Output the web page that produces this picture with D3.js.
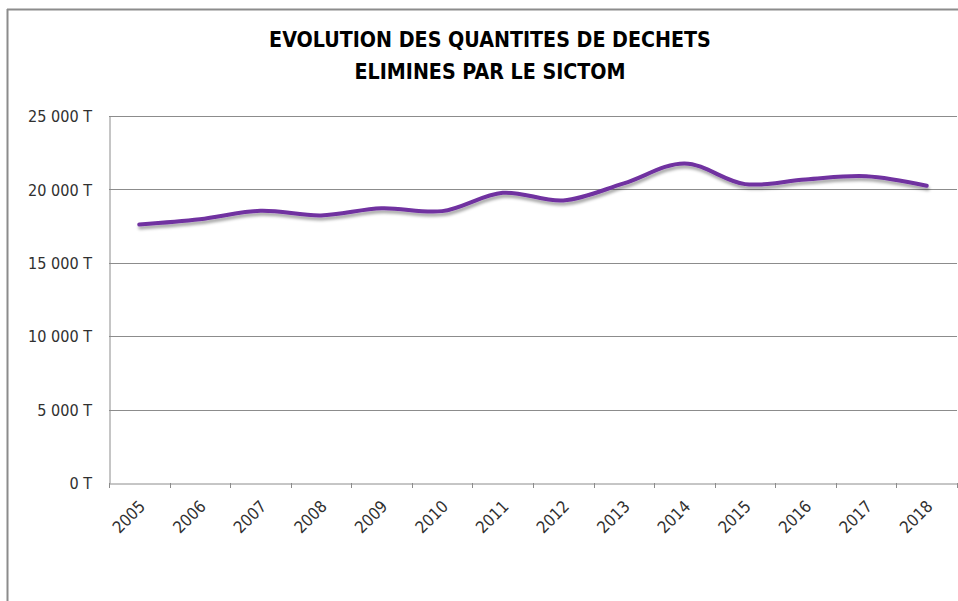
<!DOCTYPE html>
<meta charset="utf-8">
<head>
<style>
html, body{margin:0px; padding:0px; background:white;}
text {font-family: "Liberation Sans Narrow", "Arial Narrow", "DejaVu Sans Condensed", sans-serif;}
</style>
</head>
<script src="https://d3js.org/d3.v7.min.js"></script>
<div id="my_dataviz"></div>
<script>

// data
var years = ["2005","2006","2007","2008","2009","2010","2011","2012","2013","2014","2015","2016","2017","2018"]
var tonnes = [17610, 17970, 18540, 18230, 18720, 18520, 19770, 19250, 20410, 21770, 20360, 20680, 20900, 20250]
var yTicks = [0, 5000, 10000, 15000, 20000, 25000]
var titleLines = ["EVOLUTION DES QUANTITES DE DECHETS", "ELIMINES PAR LE SICTOM"]

var W = 958, H = 601
var margin = {top: 116, right: 1, bottom: 118, left: 109},
  width = W - margin.left - margin.right,
  height = H - margin.top - margin.bottom

var root = d3.select("#my_dataviz")
  .append("svg")
  .attr("width", W)
  .attr("height", H)

// pick a font size so a sample string gets the width seen in the picture
function fitSize(sample, target, weight) {
  var t = root.append("text")
    .style("font-size", "100px")
    .style("font-weight", weight || "normal")
    .text(sample)
  var len = t.node().getComputedTextLength()
  t.remove()
  return (100 * target / len).toFixed(2) + "px"
}
var titleSize = fitSize(titleLines[0], 442, "bold")
var ySize = fitSize("25 000 T", 64)
var xSize = fitSize("2005", 38)

// shadow under the line
var defs = root.append("defs")
var f = defs.append("filter").attr("id", "shadow")
  .attr("x", "-5%").attr("y", "-50%").attr("width", "110%").attr("height", "200%")
f.append("feDropShadow")
  .attr("dx", 1).attr("dy", 3).attr("stdDeviation", 1.8)
  .attr("flood-color", "#000").attr("flood-opacity", 0.35)

// outer frame (only top and left visible)
root.append("line").attr("x1", 7).attr("x2", W).attr("y1", 9.5).attr("y2", 9.5)
  .style("stroke", "#8c8c8c").style("stroke-width", 2)
root.append("line").attr("x1", 7.5).attr("x2", 7.5).attr("y1", 9).attr("y2", H)
  .style("stroke", "#8c8c8c").style("stroke-width", 2)

// title
root.append("text")
  .attr("x", 490).attr("y", 47)
  .attr("text-anchor", "middle")
  .style("font-size", titleSize).style("font-weight", "bold").style("fill", "#000")
  .selectAll("tspan")
  .data(titleLines)
  .enter().append("tspan")
    .attr("x", 490)
    .attr("dy", function(d, i) { return i == 0 ? 0 : 32 })
    .text(function(d) { return d })

var svg = root.append("g")
  .attr("transform", "translate(" + margin.left + "," + margin.top + ")")

var x = d3.scaleBand()
  .range([0, width])
  .domain(years)

var y = d3.scaleLinear()
  .range([height, 0])
  .domain([0, 25000])

var fmt = function(d) { return d3.format(",")(d).replace(/,/g, " ") + " T" }

// gridlines
svg.selectAll(".grid")
  .data(yTicks.filter(function(d) { return d > 0 }))
  .enter().append("line")
    .attr("x1", 0).attr("x2", width)
    .attr("y1", function(d) { return Math.round(y(d)) + 0.5 })
    .attr("y2", function(d) { return Math.round(y(d)) + 0.5 })
    .style("stroke", "#8c8c8c").style("stroke-width", 1)

// y axis
var yAxis = svg.append("g")
  .call(d3.axisLeft(y).tickValues(yTicks).tickFormat(fmt).tickSize(0).tickPadding(17))
yAxis.attr("font-size", null).attr("font-family", null)
yAxis.select(".domain").style("stroke", "#8c8c8c").attr("transform", "translate(0.5,0)")
yAxis.selectAll("text").style("font-size", ySize).style("fill", "#303030")
  .attr("dy", "0.35em")

// x axis
var xAxis = svg.append("g")
  .attr("transform", "translate(0," + (Math.round(height) + 0.5) + ")")
  .call(d3.axisBottom(x).tickSize(0))
xAxis.attr("font-size", null).attr("font-family", null)
xAxis.select(".domain").style("stroke", "#8c8c8c")
xAxis.selectAll(".tick line").remove()
xAxis.selectAll(".tick text")
  .style("font-size", xSize).style("fill", "#303030")
  .style("text-anchor", "end")
  .attr("x", 0).attr("y", 0).attr("dy", 0)
  .attr("transform", "translate(7,24) rotate(-45)")

// small tick marks between categories
svg.append("g")
  .selectAll("line")
  .data(years.concat(["end"]))
  .enter().append("line")
    .attr("x1", function(d, i) { return Math.round(i * x.step()) + 0.5 })
    .attr("x2", function(d, i) { return Math.round(i * x.step()) + 0.5 })
    .attr("y1", height).attr("y2", height + 5)
    .style("stroke", "#8c8c8c")

// the line
var line = d3.line()
  .x(function(d, i) { return x(years[i]) + x.bandwidth() / 2 })
  .y(function(d) { return y(d) })
  .curve(d3.curveCatmullRom.alpha(0.5))

svg.append("path")
  .datum(tonnes)
  .attr("d", line)
  .style("fill", "none")
  .style("stroke", "#7030a0")
  .style("stroke-width", 4)
  .style("stroke-linecap", "round")
  .attr("filter", "url(#shadow)")

</script>
</html>
